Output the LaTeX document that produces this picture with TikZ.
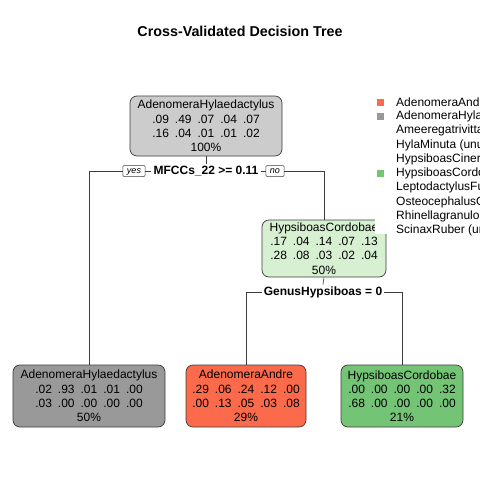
\documentclass[tikz,border=0pt]{standalone}
\usepackage{fontspec}
\setmainfont{Liberation Sans}
\definecolor{rootgray}{RGB}{204,204,204}
\definecolor{leafgray}{RGB}{153,153,153}
\definecolor{leafred}{RGB}{251,106,74}
\definecolor{leafgreen}{RGB}{116,196,118}
\definecolor{midgreen}{RGB}{216,240,210}
\definecolor{linegray}{RGB}{60,60,60}
\tikzset{
  treebox/.style={draw=linegray, rounded corners=7pt, line width=0.7pt, align=center,
    inner sep=0pt, minimum height=60pt, font=\fontsize{12}{14.2}\selectfont},
  edge/.style={draw=linegray, line width=0.6pt},
  splitlab/.style={fill=white, inner sep=2pt, font=\bfseries\fontsize{12}{14}\selectfont},
  yesno/.style={draw=linegray, fill=white, line width=0.5pt, rounded corners=1pt,
    inner xsep=4pt, inner ysep=1.5pt, text height=6.5pt, text depth=1.5pt,
    font=\itshape\fontsize{9}{10}\selectfont},
  keybox/.style={fill=#1, minimum size=7pt, inner sep=0pt},
  legtext/.style={anchor=west, inner sep=0pt, font=\fontsize{12}{14}\selectfont}
}
\newcommand{\probs}[5]{#1\hspace{6pt}#2\hspace{6pt}#3\hspace{6pt}#4\hspace{6pt}#5}
\begin{document}
\begin{tikzpicture}[x=1pt,y=-1pt]
\useasboundingbox (0,0) rectangle (480,480);
\clip (0,0) rectangle (480,480);
\node[font=\bfseries\fontsize{14.3}{16}\selectfont] (title) at (240,31) {Cross-Validated Decision Tree};
% tree nodes
\node[treebox, fill=rootgray, minimum width=152pt] (root) at (206,126)
  {AdenomeraHylaedactylus\\\probs{.09}{.49}{.07}{.04}{.07}\\\probs{.16}{.04}{.01}{.01}{.02}\\100\%};
\node[treebox, fill=midgreen, minimum width=124pt, minimum height=57pt] (mid) at (324,248.5)
  {HypsiboasCordobae\\\probs{.17}{.04}{.14}{.07}{.13}\\\probs{.28}{.08}{.03}{.02}{.04}\\50\%};
\node[treebox, fill=leafgray, minimum width=152pt, minimum height=62pt] (leafA) at (89,396)
  {AdenomeraHylaedactylus\\\probs{.02}{.93}{.01}{.01}{.00}\\\probs{.03}{.00}{.00}{.00}{.00}\\50\%};
\node[treebox, fill=leafred, minimum width=120pt, minimum height=62pt] (leafB) at (246,396)
  {AdenomeraAndre\\\probs{.29}{.06}{.24}{.12}{.00}\\\probs{.00}{.13}{.05}{.03}{.08}\\29\%};
\node[treebox, fill=leafgreen, minimum width=122pt, minimum height=62pt] (leafC) at (402,396)
  {HypsiboasCordobae\\\probs{.00}{.00}{.00}{.00}{.32}\\\probs{.68}{.00}{.00}{.00}{.00}\\21\%};
% splits
\node[splitlab] (split1) at (206,171) {MFCCs\_22 >= 0.11};
\node[yesno] (yes) at (134,171) {yes};
\node[yesno] (no) at (275,171) {no};
\node[splitlab] (split2) at (323,292.5) {GenusHypsiboas = 0};
\draw[edge] (root.south) -- (split1.north);
\draw[edge] (leafA.north) |- (yes.west);
\draw[edge] (yes.east) -- (split1.west);
\draw[edge] (split1.east) -- (no.west);
\draw[edge] (no.east) -| (mid.north);
\draw[edge] (mid.south) -- (split2.north);
\draw[edge] (leafB.north) |- (split2.west);
\draw[edge] (split2.east) -| (leafC.north);
% legend
\fill[white] (375,88) rectangle (480,234);
\node[keybox=leafred] (key1) at (380.5,102) {};
\node[keybox=leafgray] (key2) at (380.5,116.3) {};
\node[keybox=leafgreen] (key6) at (380.5,173.5) {};
\node[legtext] (leg1) at (396,102) {AdenomeraAndre};
\node[legtext] (leg2) at (396,116.3) {AdenomeraHylaedactylus};
\node[legtext] (leg3) at (396,130.6) {Ameeregatrivittata};
\node[legtext] (leg4) at (396,144.9) {HylaMinuta (unused)};
\node[legtext] (leg5) at (396,159.2) {HypsiboasCinerascens};
\node[legtext] (leg6) at (396,173.5) {HypsiboasCordobae};
\node[legtext] (leg7) at (396,187.8) {LeptodactylusFuscus};
\node[legtext] (leg8) at (396,202.1) {OsteocephalusOophagus};
\node[legtext] (leg9) at (396,216.4) {Rhinellagranulosa};
\node[legtext] (leg10) at (396,230.7) {ScinaxRuber (unused)};
\end{tikzpicture}
\end{document}
